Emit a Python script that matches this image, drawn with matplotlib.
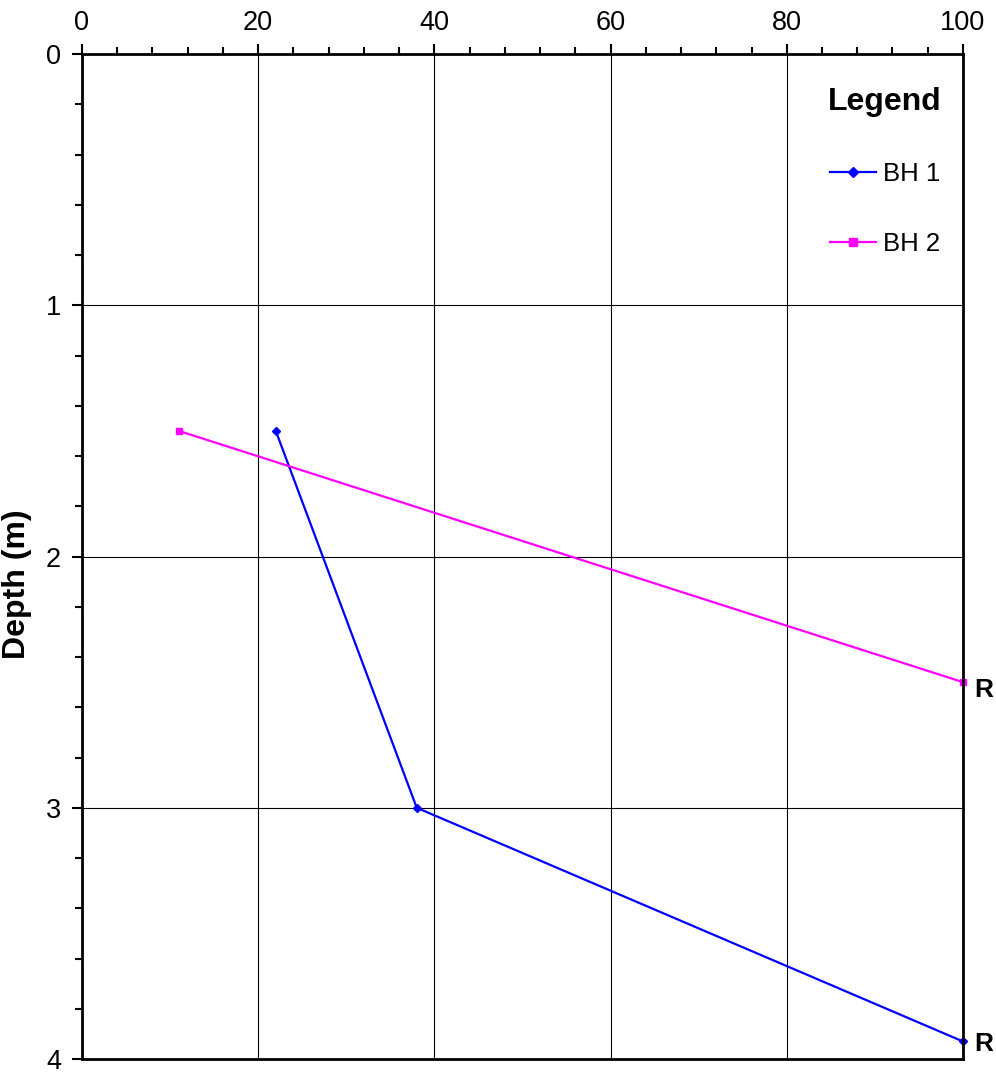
import numpy as np
import matplotlib.pyplot as plt
from matplotlib.ticker import MultipleLocator

plt.rcParams['font.family'] = ['Liberation Sans', 'DejaVu Sans']

# borehole data (x value vs depth)
bh1_x = [22, 38, 100]
bh1_depth = [1.5, 3.0, 3.93]
bh2_x = [11, 100]
bh2_depth = [1.5, 2.5]

fig = plt.figure(figsize=(9.96, 10.72), dpi=100)
ax = fig.add_axes([0.0823, 0.0121, 0.8845, 0.9375])

ax.plot(bh1_x, bh1_depth, color='#0000ff', lw=1.6, marker='D', ms=4.5, label='BH 1', clip_on=False)
ax.plot(bh2_x, bh2_depth, color='#ff00ff', lw=1.6, marker='s', ms=5, label='BH 2', clip_on=False)

# refusal marks at end of each borehole
for xs, ds, dy in [(bh1_x, bh1_depth, -2), (bh2_x, bh2_depth, -6)]:
    ax.annotate('R', (xs[-1], ds[-1]), xytext=(8, dy), textcoords='offset points',
                fontsize=19, fontweight='bold', ha='left', va='center', annotation_clip=False)

ax.set_xlim(0, 100)
ax.set_ylim(4, 0)
ax.xaxis.set_major_locator(MultipleLocator(20))
ax.xaxis.set_minor_locator(MultipleLocator(4))
ax.yaxis.set_major_locator(MultipleLocator(1))
ax.yaxis.set_minor_locator(MultipleLocator(0.2))
ax.xaxis.tick_top()
ax.tick_params(which='both', direction='out', width=1.5, labelsize=19.5, colors='black')
ax.tick_params(which='major', length=7)
ax.tick_params(which='minor', length=5)
ax.tick_params(axis='x', pad=6)
ax.tick_params(axis='y', pad=8)
ax.grid(True, which='major', color='black', lw=0.8)
for s in ax.spines.values():
    s.set_linewidth(2)

ax.set_ylabel('Depth (m)', fontsize=23, fontweight='bold')
ax.yaxis.set_label_coords(-0.057, 0.472)

leg = ax.legend(title='Legend', loc='upper right', bbox_to_anchor=(0.9875, 0.977),
                frameon=False, fontsize=18.5,
                title_fontproperties={'weight': 'bold', 'size': 23},
                handlelength=1.8, handletextpad=0.25, labelspacing=1.8,
                borderaxespad=0, markerscale=1.2)
leg._legend_box.sep = 32

fig.savefig('out.png', dpi=100)
